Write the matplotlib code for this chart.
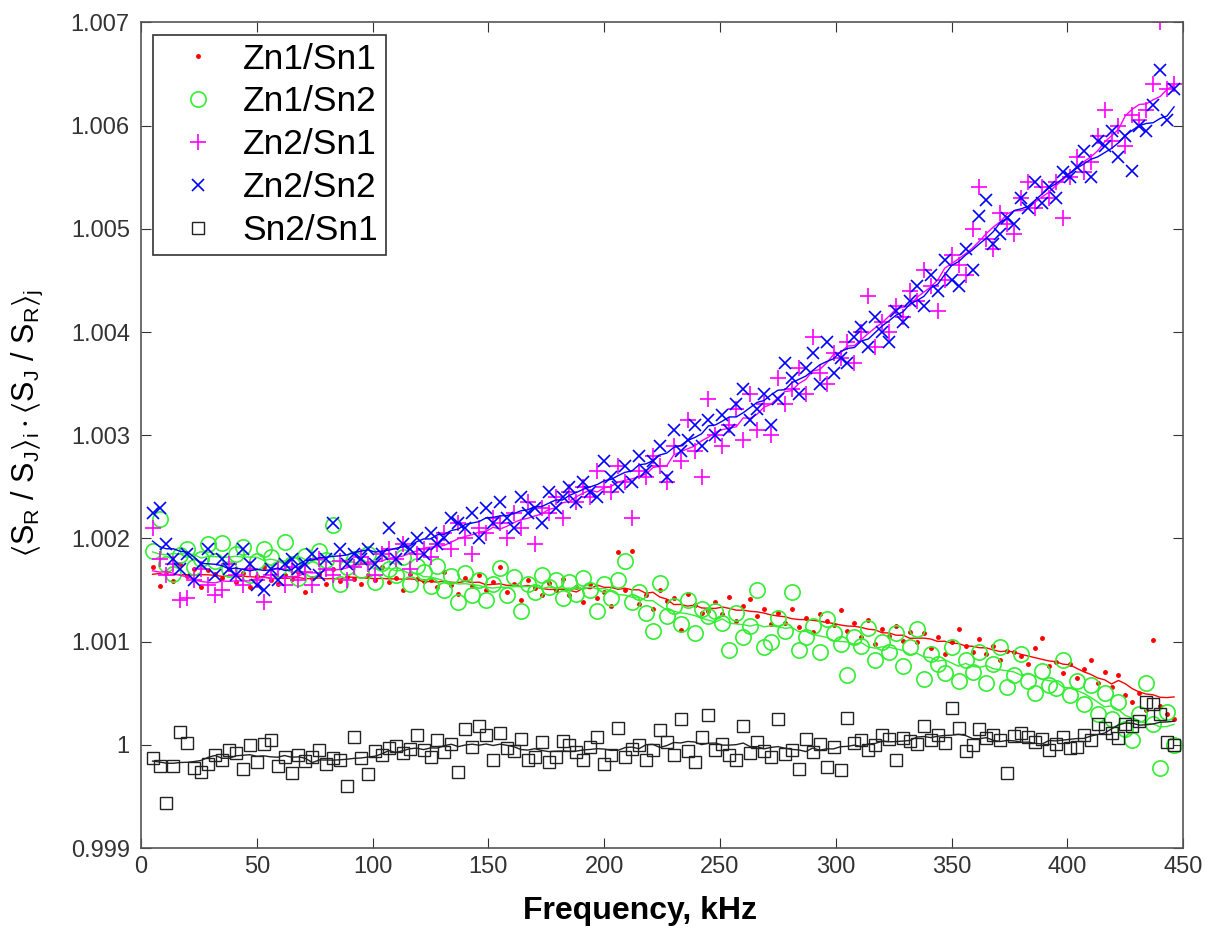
import numpy as np
import pandas as pd
import matplotlib
matplotlib.use('Agg')
from matplotlib import pyplot as plt

plt.rcParams['font.family'] = ['Liberation Sans', 'DejaVu Sans']
plt.rcParams['mathtext.fontset'] = 'custom'
plt.rcParams['mathtext.rm'] = 'Liberation Sans'
plt.rcParams['mathtext.it'] = 'Liberation Sans'
plt.rcParams['mathtext.default'] = 'regular'

# frequency grid, kHz
freq = np.arange(5, 448, 3)

# values in ppm above 1
zn1_sn1 = [
	1720, 1540, 1680, 1590, 1750, 1640, 1700, 1530, 1690, 1660,
	1620, 1700, 1580, 1670, 1530, 1640, 1720, 1600, 1560, 1650,
	1610, 1680, 1480, 1620, 1660, 1560, 1700, 1590, 1630, 1610,
	1560, 1650, 1600, 1720, 1580, 1620, 1500, 1660, 1610, 1590,
	1600, 1530, 1680, 1550, 1460, 1620, 1540, 1650, 1500, 1580,
	1720, 1480, 1560, 1400, 1600, 1520, 1450, 1570, 1500, 1610,
	1450, 1530, 1380, 1560, 1420, 1480, 1350, 1870, 1500, 1880,
	1370, 1450, 1320, 1500, 1390, 1420, 1110, 1460, 1360, 1280,
	1300, 1380, 1270, 1430, 1200, 1350, 1410, 1250, 1320, 1170,
	1280, 1180, 1320, 1140, 1230, 1090, 1270, 1200, 1160, 1310,
	1100, 1180, 1050, 1210, 980, 1120, 1060, 1150, 1010, 1090,
	1000, 1080, 940, 1050, 880, 1000, 1120, 960, 900, 1030,
	880, 960, 820, 910, 900, 860, 780, 940, 1040, 760,
	800, 700, 780, 650, 740, 820, 600, 710, 560, 680,
	480, 420, 500, 340, 1020, 380, 300, 250]

zn1_sn2 = [
	1880, 2190, 1750, 1660, 1840, 1900, 1720, 1800, 1950, 1780,
	1960, 1700, 1850, 1920, 1650, 1780, 1900, 1820, 1700, 1970,
	1750, 1620, 1830, 1700, 1880, 1790, 2130, 1560, 1720, 1800,
	1690, 1850, 1580, 1760, 1700, 1650, 1820, 1560, 1730, 1680,
	1540, 1730, 1500, 1640, 1380, 1670, 1450, 1600, 1400, 1560,
	1710, 1450, 1630, 1300, 1560, 1480, 1650, 1530, 1600, 1420,
	1580, 1460, 1620, 1500, 1300, 1560, 1420, 1600, 1780, 1380,
	1480, 1280, 1100, 1570, 1250, 1350, 1170, 1400, 1080, 1320,
	1250, 1300, 1180, 920, 1280, 1050, 1150, 1500, 950, 1000,
	1230, 1100, 1480, 920, 1050, 1150, 900, 1220, 1080, 980,
	680, 1050, 960, 1130, 820, 1000, 900, 1080, 760, 950,
	1120, 640, 880, 780, 700, 950, 620, 820, 710, 900,
	600, 780, 950, 560, 680, 880, 620, 500, 720, 580,
	550, 820, 480, 620, 400, 580, 300, 500, 250, 420,
	150, 50, 300, 600, 200, -220, 320, 0]

zn2_sn1 = [
	2100, 1800, 1650, 1750, 1400, 1420, 1600, 1700, 1550, 1450,
	1500, 1750, 1650, 1550, 1700, 1600, 1380, 1650, 1700, 1550,
	1720, 1600, 1680, 1550, 1800, 1700, 1650, 1780, 1600, 1720,
	1820, 1750, 1650, 1850, 1900, 1800, 1950, 1700, 1850, 1900,
	1820, 1950, 2050, 1900, 2150, 2000, 1850, 2100, 2050, 2200,
	2150, 2000, 2250, 2100, 2350, 1950, 2300, 2250, 2400, 2200,
	2450, 2350, 2500, 2400, 2650, 2500, 2450, 2700, 2550, 2200,
	2650, 2600, 2800, 2700, 2550, 2900, 2750, 3150, 2850, 2600,
	3350, 3000, 2900, 3100, 3250, 2950, 3400, 3050, 3300, 3000,
	3550, 3300, 3450, 3650, 3400, 3950, 3600, 3500, 3800, 3750,
	3900, 3700, 4000, 4350, 3850, 4100, 4000, 4250, 4150, 4400,
	4300, 4600, 4450, 4200, 4500, 4750, 4650, 4550, 5000, 5400,
	4900, 4800, 5150, 5050, 4950, 5300, 5450, 5200, 5400, 5300,
	5450, 5100, 5500, 5700, 5550, 5650, 5900, 6150, 5850, 6000,
	5800, 6100, 6050, 6150, 6400, 7000, 6350, 6400]

zn2_sn2 = [
	2250, 2300, 1950, 1800, 1700, 1850, 1600, 1750, 1900, 1650,
	1800, 1700, 1650, 1900, 1750, 1550, 1500, 1700, 1600, 1750,
	1800, 1700, 1750, 1850, 1650, 1800, 2150, 1900, 1750, 1850,
	1800, 1900, 1750, 1850, 2100, 1800, 1950, 1900, 2000, 1850,
	2050, 1950, 2000, 2200, 2150, 2100, 2250, 2000, 2300, 2150,
	2350, 2200, 2100, 2400, 2250, 2300, 2150, 2450, 2300, 2400,
	2500, 2350, 2550, 2450, 2400, 2750, 2600, 2500, 2700, 2550,
	2800, 2650, 2750, 2900, 2600, 3050, 2850, 2950, 3100, 2900,
	3150, 3000, 3200, 3050, 3300, 3450, 3150, 3250, 3400, 3100,
	3350, 3700, 3550, 3400, 3650, 3800, 3500, 3900, 3600, 3750,
	3700, 3950, 4050, 3850, 4150, 4000, 3900, 4200, 4100, 4300,
	4450, 4250, 4550, 4400, 4700, 4500, 4450, 4800, 4600, 5120,
	5280, 4850, 4950, 5100, 5050, 5300, 5200, 5450, 5250, 5400,
	5300, 5550, 5500, 5600, 5750, 5500, 5850, 5800, 5950, 5700,
	5900, 5560, 6000, 5950, 6200, 6540, 6050, 6350]

sn2_sn1 = [
	-130, -200, -560, -200, 130, 20, -220, -260, -180, -100,
	-150, -50, -80, -230, 0, -170, 10, 50, -200, -120,
	-270, -100, -160, -120, -50, -180, -130, -150, -400, 80,
	-130, -280, -60, -100, -30, -10, -80, -40, 100, -50,
	-120, 50, -70, 10, -260, 150, -20, 180, 100, -150,
	120, -30, -60, 60, -150, -120, 30, -170, -120, 40,
	0, -70, -150, -20, 80, -180, -100, 160, -120, -40,
	0, -150, -50, 140, 30, -100, 250, -60, -170, 80,
	290, -50, 10, -100, -150, 180, -80, 30, -60, -120,
	250, -90, -50, -230, 60, -70, 10, -210, -20, -240,
	260, 20, 50, -50, 0, 100, 60, -150, 70, 40,
	10, 180, 50, 100, 20, 360, 160, -60, 0, 150,
	70, 100, 50, -270, 90, 120, 80, 30, 60, -50,
	10, 80, -30, -20, 100, 50, 200, 160, 120, 70,
	200, 180, 230, 420, 400, 300, 30, 0]

labels = ['Zn1/Sn1', 'Zn1/Sn2', 'Zn2/Sn1', 'Zn2/Sn2', 'Sn2/Sn1']
series = [zn1_sn1, zn1_sn2, zn2_sn1, zn2_sn2, sn2_sn1]

styles = [
	dict(marker='.', color='red', markersize=5, mfc='red', mec='red'),
	dict(marker='o', color='#33ee33', markersize=11, mfc='none', mec='#33ee33', mew=1.2),
	dict(marker='+', color='magenta', markersize=11, mec='magenta', mew=1.2),
	dict(marker='x', color='blue', markersize=8, mec='blue', mew=1.2),
	dict(marker='s', color='#222222', markersize=9, mfc='none', mec='#222222', mew=1.0),
]

fig = plt.figure(figsize=(12.05, 9.3), dpi=100)
ax = fig.add_axes([0.117, 0.088, 0.865, 0.888])

for lab, vals, st in zip(labels, series, styles):
	y = 1 + np.array(vals) * 1e-6
	ax.plot(freq, y, linestyle='none', label=lab, **st)
	# running mean as the trend line
	sm = pd.Series(y).rolling(11, center=True, min_periods=1).mean()
	ax.plot(freq, sm, '-', color=st['color'], lw=1.0)

ax.set_xlim(0, 450)
ax.set_ylim(0.999, 1.007)
ax.set_xticks(np.arange(0, 451, 50))
ax.set_yticks(np.arange(0.999, 1.00701, 0.001))
ax.set_yticklabels(['0.999', '1', '1.001', '1.002', '1.003', '1.004', '1.005', '1.006', '1.007'])
ax.tick_params(direction='in', length=7, top=True, right=True, labelsize=17,
	colors='#333333')
ax.tick_params(axis='y', pad=8)
ax.tick_params(axis='x', pad=6)
for sp in ax.spines.values():
	sp.set_color('#555555')
	sp.set_linewidth(1.2)

ax.set_xlabel('Frequency, kHz', fontsize=23, fontweight='bold')
ax.xaxis.set_label_coords(0.479, -0.058)
ax.set_ylabel(r'$\langle S_R\ /\ S_J\rangle_i \cdot \langle S_J\ /\ S_R\rangle_j$',
	fontsize=22)
ax.yaxis.set_label_coords(-0.092, 0.515)

leg = ax.legend(loc='upper left', fontsize=25.5, fancybox=False, framealpha=1,
	edgecolor='#333333', borderaxespad=0.35, handletextpad=0.2, labelspacing=0.28,
	borderpad=0.22, handlelength=2.1)
leg.get_frame().set_linewidth(1.2)

fig.savefig('out.png', dpi=100)
